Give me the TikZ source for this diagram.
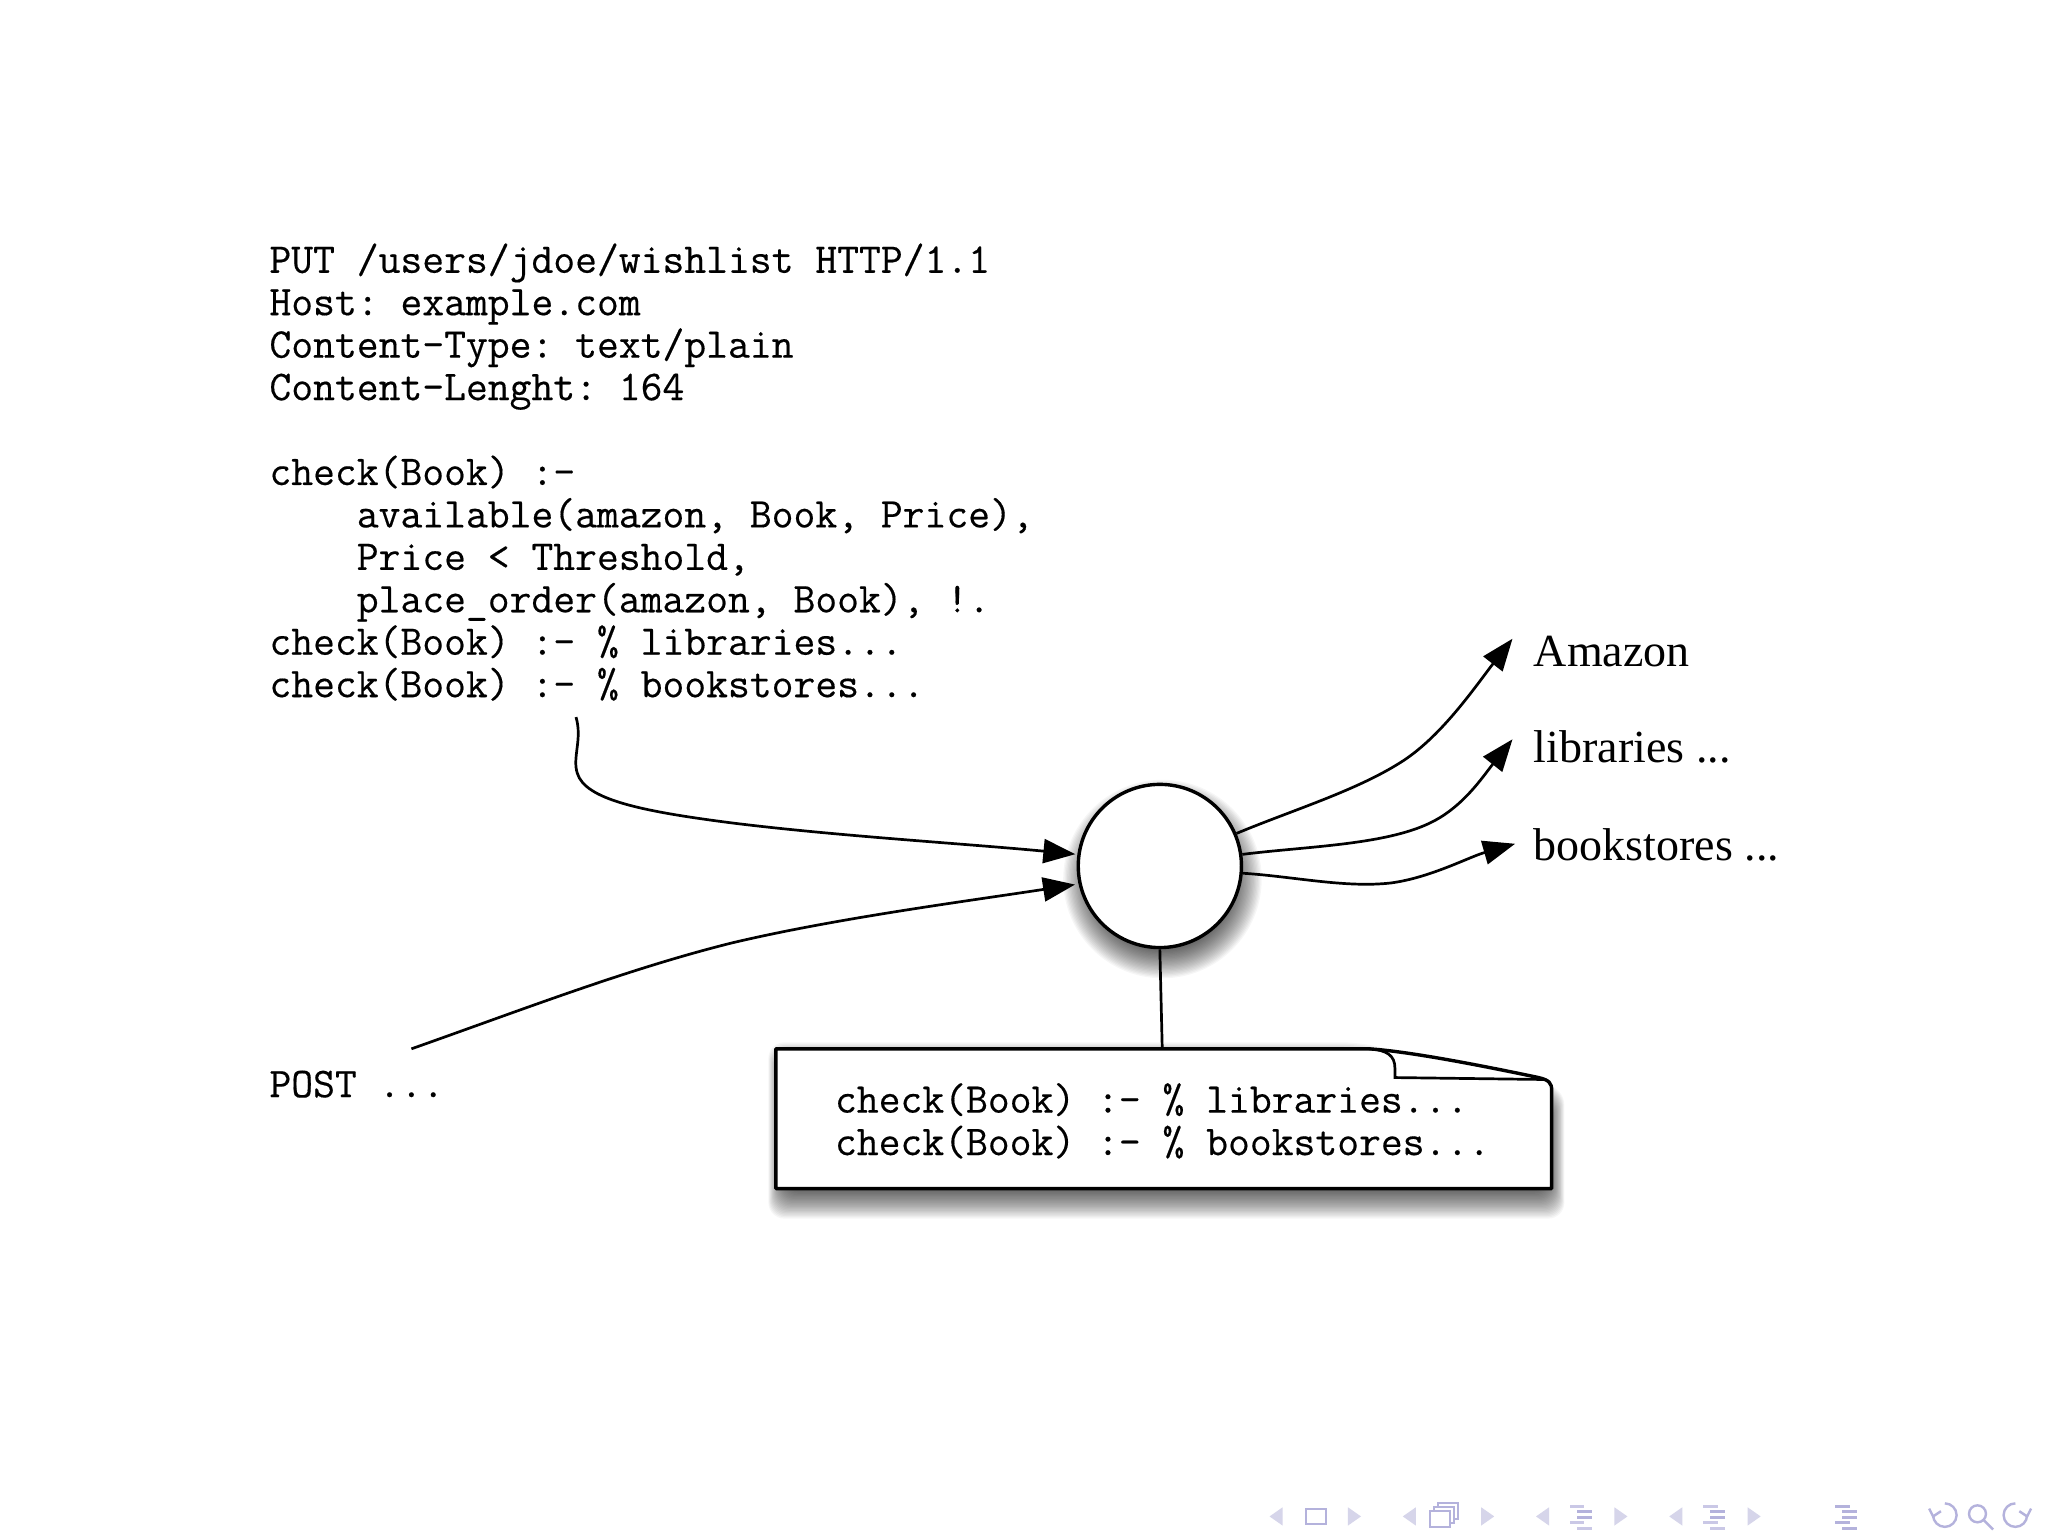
\documentclass[tikz,border=0pt]{standalone}
\usetikzlibrary{arrows.meta,calc}
\usepackage{fontspec}
\setmainfont{Liberation Serif}
\setmonofont{Latin Modern Mono}[FakeBold=0.35]
\definecolor{navfg}{HTML}{B4B2DC}
\definecolor{navlt}{HTML}{D6D5EA}
\tikzset{
  code/.style={inner sep=0pt,font=\ttfamily\fontsize{21.2}{21.22}\selectfont,align=left},
  dest/.style={inner sep=0pt,font=\fontsize{23}{26}\selectfont,anchor=base west},
  conn/.style={line width=1.35pt,black,-{Triangle[length=16pt,width=12pt]}},
  plain/.style={line width=1.35pt,black},
  outline/.style={line width=1.7pt,black,line join=round},
  navtri/.style={fill=navlt,draw=none},
  navline/.style={fill=navfg,draw=none},
  navbox/.style={draw=navfg,line width=1pt,fill=white},
  navarc/.style={draw=navfg,line width=1.2pt,fill=none},
}
\newcommand{\leftnav}[1]{\fill[navtri] (#1-5,1161)--(#1+5,1154)--(#1+5,1168)--cycle;}
\newcommand{\rightnav}[1]{\fill[navtri] (#1+5,1161)--(#1-5,1154)--(#1-5,1168)--cycle;}
\newcommand{\navlines}[1]{%
  \fill[navline,opacity=.7] (#1-9,1152) rectangle (#1+2,1154.5);
  \fill[navline] (#1-4,1156.2) rectangle (#1+8,1158.7);
  \fill[navline] (#1-4,1160.4) rectangle (#1+8,1162.9);
  \fill[navline,opacity=.7] (#1-9,1164.6) rectangle (#1+2,1167.1);
  \fill[navline,opacity=.7] (#1-4,1168.8) rectangle (#1+8,1171.3);}
\begin{document}
\begin{tikzpicture}[x=0.653061pt,y=-0.653061pt]
\useasboundingbox (0,0) rectangle (1568,1176);
\fill[white] (0,0) rectangle (1568,1176);

% code block
\node[code,anchor=north west] (codeblock) at (206,186) {%
PUT /users/jdoe/wishlist HTTP/1.1\\
Host: example.com\\
Content-Type: text/plain\\
Content-Lenght: 164\\
\mbox{}\\
check(Book) :-\\
\phantom{xxxx}available(amazon, Book, Price),\\
\phantom{xxxx}Price < Threshold,\\
\phantom{xxxx}place\_order(amazon, Book), !.\\
check(Book) :- \% libraries...\\
check(Book) :- \% bookstores...};

\node[code,anchor=base west] (post) at (206,840) {POST ...};

% shadow of the circle
\foreach \r in {-14,-13,...,14}{
  \fill[black,opacity=0.035] (890,673) circle (62+\r);
}
\node[circle,draw,outline,fill=white,minimum size=81.6pt,inner sep=0pt] (hub) at (888,663) {};

% destinations
\node[dest] (amazon) at (1174,510) {Amazon};
\node[dest] (libs) at (1174,584) {libraries ...};
\node[dest] (books) at (1174,659) {bookstores ...};

\coordinate (codefoot) at (441,549);
\coordinate (postfoot) at (315,803);
\coordinate (amztip) at (1158,489);
\coordinate (libtip) at (1158,566);
\coordinate (booktip) at (1160,646);

\draw[conn,shorten >=1pt] (codefoot) .. controls (446,566) and (438,580) .. (442,592)
  .. controls (448,612) and (490,621) .. (560,630)
  .. controls (640,640) and (740,646) .. (hub.172);
\draw[conn,shorten >=1pt] (postfoot) .. controls (400,773) and (480,742) .. (560,722)
  .. controls (640,703) and (740,690) .. (hub.174 |- 0,677);
\draw[conn] (hub.23) .. controls (990,620) and (1040,605) .. (1075,582)
  .. controls (1105,562) and (1130,525) .. (amztip);
\draw[conn] (hub.8) .. controls (1000,648) and (1060,647) .. (1095,630)
  .. controls (1120,618) and (1135,595) .. (libtip);
\draw[conn] (hub.-5) .. controls (990,671) and (1030,680) .. (1065,676)
  .. controls (1095,672) and (1125,656) .. (booktip);

% note shadow, following the cut corner of the note
\foreach \r in {-14,-13,...,14}{
  \fill[black,opacity=0.035,rounded corners=8pt]
    (596-\r*0.55,812-\r) -- (1040,812-\r) -- (1190+\r*0.55,842-\r*0.6)
    -- (1190+\r*0.55,919+\r) -- (596-\r*0.55,919+\r) -- cycle;
}
% note
\node[inner sep=0pt,minimum width=386pt,minimum height=70pt,anchor=north west] (note) at (594,803) {};
\draw[plain] (hub.south) -- (note.north);
\fill[white] (594,803) -- (1048,803) .. controls (1080,805) and (1140,817) .. (1178,825)
  .. controls (1186,827) and (1188,829) .. (1188,835) -- (1188,910) -- (594,910) -- cycle;
\draw[outline] (594,803) -- (1048,803) .. controls (1080,805) and (1140,817) .. (1178,825)
  .. controls (1186,827) and (1188,829) .. (1188,835) -- (1188,910) -- (594,910) -- cycle;
\draw[plain] (1048,803) .. controls (1062,804) and (1068,808) .. (1068,818) -- (1068,825) -- (1184,826.5);
\node[code,anchor=north west] (notetext) at (639,829) {%
check(Book) :- \% libraries...\\
check(Book) :- \% bookstores...};

% navigation symbols
\leftnav{977} \rightnav{1037}
\draw[navbox] (1000,1155) rectangle (1015,1167);
\leftnav{1079} \rightnav{1139}
\draw[navbox] (1101,1151) rectangle (1116,1163);
\draw[navbox] (1098,1154) rectangle (1113,1166);
\draw[navbox] (1095,1157) rectangle (1110,1169);
\leftnav{1181} \rightnav{1241}
\navlines{1211}
\leftnav{1283} \rightnav{1343}
\navlines{1313}
\fill[navline] (1405,1152) rectangle (1416,1154.5);
\fill[navline] (1410,1156.2) rectangle (1422,1158.7);
\fill[navline] (1410,1160.4) rectangle (1422,1162.9);
\fill[navline] (1405,1164.6) rectangle (1416,1167.1);
\fill[navline] (1410,1168.8) rectangle (1422,1171.3);
\draw[navarc] (1480,1160) arc[start angle=180,end angle=-90,radius=9];
\draw[navarc] (1477,1155) -- (1480,1161) -- (1486,1157);
\draw[navarc] (1514,1159) circle (6.5);
\draw[navarc] (1518.5,1163.5) -- (1526,1171);
\draw[navarc] (1552,1160) arc[start angle=0,end angle=270,radius=9];
\draw[navarc] (1555,1155) -- (1552,1161) -- (1546,1157);
\end{tikzpicture}
\end{document}
